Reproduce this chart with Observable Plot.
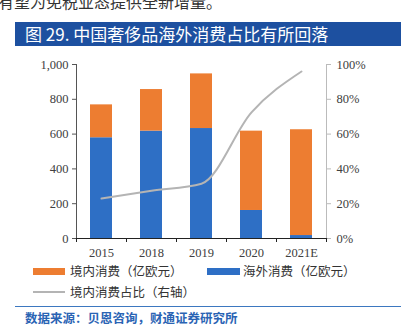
<!DOCTYPE html>
<html><head><meta charset="utf-8">
<script src="https://cdn.jsdelivr.net/npm/d3@7"></script>
<script src="https://cdn.jsdelivr.net/npm/@observablehq/plot@0.6"></script>
<style>
body{margin:0;width:401px;height:335px;overflow:hidden;background:#fff;position:relative;font-family:"Noto Sans CJK SC",sans-serif;}
#top{position:absolute;left:-2px;top:-11px;font-size:16px;color:#333;white-space:nowrap;}
#title{position:absolute;left:15px;top:22px;width:386px;height:24px;background:#1d50a0;color:#fff;font-size:17px;line-height:24px;padding-left:10px;box-sizing:border-box;white-space:nowrap;}
#chart{position:absolute;left:0;top:52px;}
.leg{position:absolute;font-size:12.5px;color:#333;white-space:nowrap;line-height:14px;}
.sw{position:absolute;}
#sep{position:absolute;left:15px;top:306px;width:386px;height:1px;background:#3d78c0;}
#src{position:absolute;left:25px;top:308px;font-size:12.5px;font-weight:bold;color:#2a64b4;white-space:nowrap;}
</style></head>
<body>
<div id="top">有望为免税业态提供全新增量。</div>
<div id="title">图 29. 中国奢侈品海外消费占比有所回落</div>
<div id="chart"></div>
<div class="sw" style="left:33px;top:268px;width:32px;height:7px;background:#ed7d31"></div>
<div class="leg" style="left:70px;top:264px">境内消费（亿欧元）</div>
<div class="sw" style="left:207px;top:268px;width:33px;height:7px;background:#2e6fc5"></div>
<div class="leg" style="left:243px;top:264px">海外消费（亿欧元）</div>
<div class="sw" style="left:33px;top:291px;width:32px;height:2px;background:#b4b4b4"></div>
<div class="leg" style="left:70px;top:285px">境内消费占比（右轴）</div>
<div id="sep"></div>
<div id="src">数据来源：贝恩咨询，财通证券研究所</div>
<script>
const years = ["2015","2018","2019","2020","2021E"];
const overseas = [579, 617, 632, 161, 17];
const domestic = [189, 239, 314, 456, 608];
const domesticShare = [0.23, 0.275, 0.315, 0.725, 0.96];
const leftTicks = [0,200,400,600,800,1000];
const rightTicks = [0,0.2,0.4,0.6,0.8,1.0];

const bars = [];
years.forEach((y,i)=>{
  bars.push({year:y, series:"海外消费", value:overseas[i], order:0});
  bars.push({year:y, series:"境内消费", value:domestic[i], order:1});
});
const line = years.map((y,i)=>({year:y, share:domesticShare[i]}));

const W = 401, H = 210;
const mL = 76, mR = 75;
const step = (W-mL-mR)/years.length;
const serif = "Liberation Serif, serif";

const chart = Plot.plot({
  width: W, height: H,
  marginLeft: mL, marginRight: mR, marginTop: 12, marginBottom: 24,
  style: {fontFamily: serif, fontSize: "12.5px", color:"#404040", background:"transparent"},
  x: {domain: years, padding: 0, axis: null},
  y: {domain: [0,1000], axis: null},
  marks: [
    Plot.barY(bars, Plot.stackY({x:"year", y:"value", order:"order", fill:"series", insetLeft: step*0.28, insetRight: step*0.28})),
    Plot.lineY(line, {x:"year", y: d=>d.share*1000, stroke:"#b4b4b4", strokeWidth:2, curve:"monotone-x"}),
    Plot.axisY({anchor:"left", label:null, ticks: leftTicks, tickFormat: d3.format(","), tickSize:4, tickPadding:4, stroke:"#555", fontSize:12.5}),
    Plot.axisY({anchor:"right", label:null, ticks: rightTicks.map(t=>t*1000), tickFormat: (d)=> Math.round(d/10)+"%", tickSize:4, tickPadding:6, stroke:"#bbb", fontSize:12.5}),
    Plot.frame({anchor:"left", stroke:"#555"}),
    Plot.frame({anchor:"right", stroke:"#bbb"}),
    Plot.frame({anchor:"bottom", stroke:"#222", strokeWidth:1.2}),
    Plot.axisX({anchor:"bottom", label:null, tickSize:0, tickPadding:10, fontSize:12.5}),
    Plot.axisX({anchor:"bottom", label:null, tickFormat:()=>"", tickSize:4, dx:-step/2, stroke:"#222"}),
    Plot.axisX({anchor:"bottom", label:null, ticks:[years[years.length-1]], tickFormat:()=>"", tickSize:4, dx:step/2, stroke:"#222"})
  ],
  color: {domain:["境内消费","海外消费"], range:["#ed7d31","#2e6fc5"]}
});
document.getElementById("chart").appendChild(chart);
</script>
</body></html>
